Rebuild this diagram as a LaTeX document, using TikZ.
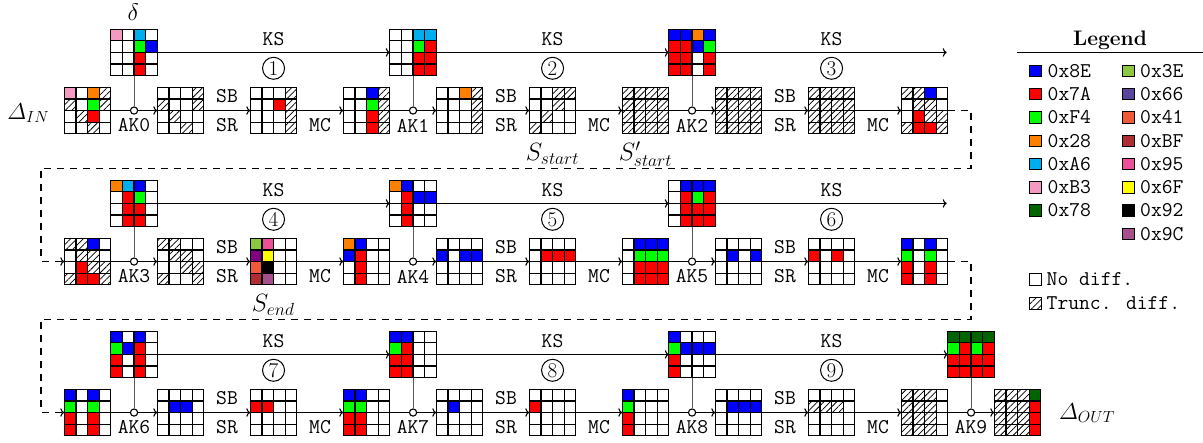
\RequirePackage{fix-cm}
\documentclass[tikz,border=0pt]{standalone}
\usepackage{amsmath}
\usetikzlibrary{patterns.meta,arrows.meta}
\definecolor{colW}{RGB}{255,255,255}
\definecolor{colB}{RGB}{0,0,255}
\definecolor{colR}{RGB}{255,0,0}
\definecolor{colG}{RGB}{0,255,0}
\definecolor{colO}{RGB}{255,128,0}
\definecolor{colC}{RGB}{0,174,239}
\definecolor{colP}{RGB}{244,154,193}
\definecolor{colD}{RGB}{0,100,0}
\definecolor{colL}{RGB}{141,198,63}
\definecolor{colV}{RGB}{128,0,128}
\definecolor{colU}{RGB}{91,68,155}
\definecolor{colF}{RGB}{241,90,55}
\definecolor{colM}{RGB}{175,45,50}
\definecolor{colK}{RGB}{236,80,152}
\definecolor{colY}{RGB}{255,255,0}
\definecolor{colX}{RGB}{0,0,0}
\definecolor{colQ}{RGB}{165,80,140}
\def\cs{11.625}
\def\hcode{H}
\newcommand\cellgrid[4]{%
  \node[gbox,anchor=north west] (#1) at (#2,#3) {};
  \foreach \cv [count=\ii from 0] in {#4} {
    \pgfmathtruncatemacro\cc{mod(\ii,4)}
    \pgfmathtruncatemacro\rr{div(\ii,4)}
    \ifx\cv\hcode
      \fill[hatch] (#2+\cc*\cs,#3+\rr*\cs) rectangle ++(\cs,\cs);
    \else
      \fill[fill=col\cv] (#2+\cc*\cs,#3+\rr*\cs) rectangle ++(\cs,\cs);
    \fi
  }
  \foreach \jj in {0,...,4} {
    \draw[gl] (#2+\jj*\cs,#3) -- ++(0,46.5);
    \draw[gl] (#2,#3+\jj*\cs) -- ++(46.5,0);
  }
}
\newcommand\stategrid[4]{\cellgrid{#1}{64.3+93*#2}{#3}{#4}}
\newcommand\keygrid[4]{\cellgrid{#1}{110.8+93*#2}{#3-58.1}{#4}}
\newcommand\akstep[4]{%
  \pgfmathtruncatemacro\nx{#2+1}
  \node[akc] (ak#3) at (134.05+93*#2,#4+23.25) {};
  \node[lbl] (akl#3) at (134.05+93*#2,#4+38.25) {AK#3};
  \draw[conn] (r#1g#2.east) -- (ak#3.west);
  \draw[conn,->] (ak#3.east) -- (r#1g\nx.west);
  \draw[vl] (k#3.south) -- (ak#3.north);
}
\newcommand\sbstep[3]{%
  \pgfmathtruncatemacro\nx{#2+1}
  \draw[conn,->] (r#1g#2.east) -- (r#1g\nx.west);
  \node[lbl] (sb#1#2) at (134.05+93*#2,#3+9.25) {SB};
  \node[lbl] (sr#1#2) at (134.05+93*#2,#3+38.25) {SR};
}
\newcommand\mcstep[3]{%
  \pgfmathtruncatemacro\nx{#2+1}
  \draw[conn,->] (r#1g#2.east) -- (r#1g\nx.west);
  \node[lbl] (mc#1#2) at (134.05+93*#2,#3+38.25) {MC};
}
\newcommand\roundlab[3]{% number, grid index, T
  \node[rnd] (rn#1) at (87.55+93*#2,#3-19) {#1};
  \node[lbl] (ks#1) at (87.55+93*#2,#3-48.3) {KS};
}
\begin{document}
\begin{tikzpicture}[x=1pt,y=-1pt,
  >={To[length=4pt,width=8.5pt]},
  gbox/.style={minimum size=46.5pt,inner sep=0pt,outer sep=0pt},
  gl/.style={line width=1.3pt,black},
  hatch/.style={pattern={Lines[angle=45,distance=4.5pt,line width=0.75pt]}},
  conn/.style={line width=1.1pt,black},
  vl/.style={line width=1.1pt,black!65},
  akc/.style={circle,draw,line width=1.1pt,minimum size=7.2pt,inner sep=0pt},
  lbl/.style={font=\ttfamily\fontsize{21}{21}\selectfont,inner sep=0pt},
  rnd/.style={circle,draw,line width=1pt,minimum size=22pt,inner sep=0pt,font=\fontsize{21}{21}\selectfont},
  mth/.style={inner sep=0pt,font=\fontsize{23}{23}\selectfont},
  smth/.style={inner sep=0pt,font=\fontsize{25}{25}\selectfont},
  legsq/.style={draw,line width=0.8pt,minimum size=11.5pt,inner sep=0pt},
  dashline/.style={line width=1.1pt,dash pattern=on 7pt off 6pt}]
\useasboundingbox (0,0) rectangle (1203,443);
\def\Ta{87.3}
\def\Tb{238.3}
\def\Tc{389.3}
% ---------------- Row 1
\stategrid{r1g0}{0}{\Ta}{P,W,O,H,H,W,G,H,W,H,R,W,W,W,H,W}
\stategrid{r1g1}{1}{\Ta}{W,W,W,H,H,W,W,H,W,H,W,W,W,W,H,W}
\stategrid{r1g2}{2}{\Ta}{W,W,W,H,W,W,R,H,W,W,W,H,W,W,W,H}
\stategrid{r1g3}{3}{\Ta}{W,W,B,H,W,W,G,H,W,W,R,H,W,W,R,H}
\stategrid{r1g4}{4}{\Ta}{W,W,O,H,W,W,W,H,W,W,W,H,W,W,W,H}
\stategrid{r1g5}{5}{\Ta}{W,W,H,H,W,W,H,W,W,H,W,W,H,W,W,W}
\stategrid{r1g6}{6}{\Ta}{H,H,H,H,H,H,H,H,H,H,H,H,H,H,H,H}
\stategrid{r1g7}{7}{\Ta}{H,H,H,H,H,H,H,H,H,H,H,H,H,H,H,H}
\stategrid{r1g8}{8}{\Ta}{H,H,H,H,H,H,H,H,H,H,H,H,H,H,H,H}
\stategrid{r1g9}{9}{\Ta}{H,H,B,W,W,H,H,W,W,R,H,H,H,R,R,H}
\keygrid{k0}{0}{\Ta}{P,W,C,W,W,W,G,B,W,W,R,W,W,W,R,W}
\keygrid{k1}{3}{\Ta}{W,W,C,C,W,W,G,R,W,W,R,R,W,W,R,R}
\keygrid{k2}{6}{\Ta}{B,B,O,B,R,R,B,G,R,R,W,R,R,R,W,R}
\akstep{1}{0}{0}{\Ta}
\sbstep{1}{1}{\Ta}
\mcstep{1}{2}{\Ta}
\akstep{1}{3}{1}{\Ta}
\sbstep{1}{4}{\Ta}
\mcstep{1}{5}{\Ta}
\akstep{1}{6}{2}{\Ta}
\sbstep{1}{7}{\Ta}
\mcstep{1}{8}{\Ta}
\roundlab{1}{2}{\Ta}
\roundlab{2}{5}{\Ta}
\roundlab{3}{8}{\Ta}
\coordinate (ks1end) at (946.7,\Ta-34.85);
\draw[conn,->] (k0.east) -- (k1.west);
\draw[conn,->] (k1.east) -- (k2.west);
\draw[conn,->] (k2.east) -- (ks1end);
\node[mth] (din) at (28.3,113) {$\varDelta_{IN}$};
\node[mth,font=\fontsize{24}{24}\selectfont] (dlt) at (133.3,12) {$\delta$};
\node[smth] (sst) at (552.5,154.3) {$S_{start}$};
\node[smth] (sst2) at (645.5,154.3) {$S'_{start}$};
% ---------------- Row 2
\stategrid{r2g0}{0}{\Tb}{H,H,B,W,W,H,H,W,W,R,H,H,H,R,R,H}
\stategrid{r2g1}{1}{\Tb}{H,H,W,W,W,H,H,W,W,W,H,H,H,W,W,H}
\stategrid{r2g2}{2}{\Tb}{L,K,W,W,V,Y,W,W,F,X,W,W,M,Q,W,W}
\stategrid{r2g3}{3}{\Tb}{O,B,W,W,B,R,W,W,W,R,W,W,W,R,W,W}
\stategrid{r2g4}{4}{\Tb}{W,W,W,W,B,W,B,B,W,W,W,W,W,W,W,W}
\stategrid{r2g5}{5}{\Tb}{W,W,W,W,W,R,R,R,W,W,W,W,W,W,W,W}
\stategrid{r2g6}{6}{\Tb}{W,B,B,B,W,G,G,G,W,R,R,R,W,R,R,R}
\stategrid{r2g7}{7}{\Tb}{W,W,W,W,W,B,W,B,W,W,W,W,W,W,W,W}
\stategrid{r2g8}{8}{\Tb}{W,W,W,W,R,W,R,W,W,W,W,W,W,W,W,W}
\stategrid{r2g9}{9}{\Tb}{B,W,B,W,G,W,G,W,R,W,R,W,R,W,R,W}
\keygrid{k3}{0}{\Tb}{O,C,B,W,W,R,G,W,W,R,R,W,W,R,R,W}
\keygrid{k4}{3}{\Tb}{O,B,W,W,W,R,B,B,W,R,W,W,W,R,W,W}
\keygrid{k5}{6}{\Tb}{W,B,B,B,W,R,G,R,W,R,R,R,W,R,R,R}
\akstep{2}{0}{3}{\Tb}
\sbstep{2}{1}{\Tb}
\mcstep{2}{2}{\Tb}
\akstep{2}{3}{4}{\Tb}
\sbstep{2}{4}{\Tb}
\mcstep{2}{5}{\Tb}
\akstep{2}{6}{5}{\Tb}
\sbstep{2}{7}{\Tb}
\mcstep{2}{8}{\Tb}
\roundlab{4}{2}{\Tb}
\roundlab{5}{5}{\Tb}
\roundlab{6}{8}{\Tb}
\coordinate (ks2end) at (946.7,\Tb-34.85);
\draw[conn,->] (k3.east) -- (k4.west);
\draw[conn,->] (k4.east) -- (k5.west);
\draw[conn,->] (k5.east) -- (ks2end);
\node[smth] (send) at (273.25,305.3) {$S_{end}$};
% ---------------- Row 3
\stategrid{r3g0}{0}{\Tc}{B,W,B,W,G,W,G,W,R,W,R,W,R,W,R,W}
\stategrid{r3g1}{1}{\Tc}{W,W,W,W,W,B,B,W,W,W,W,W,W,W,W,W}
\stategrid{r3g2}{2}{\Tc}{W,W,W,W,R,R,W,W,W,W,W,W,W,W,W,W}
\stategrid{r3g3}{3}{\Tc}{B,B,W,W,G,G,W,W,R,R,W,W,R,R,W,W}
\stategrid{r3g4}{4}{\Tc}{W,W,W,W,W,B,W,W,W,W,W,W,W,W,W,W}
\stategrid{r3g5}{5}{\Tc}{W,W,W,W,R,W,W,W,W,W,W,W,W,W,W,W}
\stategrid{r3g6}{6}{\Tc}{B,W,W,W,G,W,W,W,R,W,W,W,R,W,W,W}
\stategrid{r3g7}{7}{\Tc}{W,W,W,W,W,B,B,B,W,W,W,W,W,W,W,W}
\stategrid{r3g8}{8}{\Tc}{W,W,W,W,H,H,H,W,W,W,W,W,W,W,W,W}
\stategrid{r3g9}{9}{\Tc}{H,H,H,W,H,H,H,W,H,H,H,W,H,H,H,W}
\stategrid{r3g10}{10}{\Tc}{H,H,H,D,H,H,H,R,H,H,H,R,H,H,H,R}
\keygrid{k6}{0}{\Tc}{B,W,B,W,G,B,R,W,R,W,R,W,R,W,R,W}
\keygrid{k7}{3}{\Tc}{B,B,W,W,G,R,W,W,R,R,W,W,R,R,W,W}
\keygrid{k8}{6}{\Tc}{B,W,W,W,G,B,B,B,R,W,W,W,R,W,W,W}
\keygrid{k9}{9}{\Tc}{D,D,D,D,G,R,G,R,R,R,R,R,R,R,R,R}
\akstep{3}{0}{6}{\Tc}
\sbstep{3}{1}{\Tc}
\mcstep{3}{2}{\Tc}
\akstep{3}{3}{7}{\Tc}
\sbstep{3}{4}{\Tc}
\mcstep{3}{5}{\Tc}
\akstep{3}{6}{8}{\Tc}
\sbstep{3}{7}{\Tc}
\mcstep{3}{8}{\Tc}
\akstep{3}{9}{9}{\Tc}
\roundlab{7}{2}{\Tc}
\roundlab{8}{5}{\Tc}
\roundlab{9}{8}{\Tc}
\draw[conn,->] (k6.east) -- (k7.west);
\draw[conn,->] (k7.east) -- (k8.west);
\draw[conn,->] (k8.east) -- (k9.west);
\node[mth] (dout) at (1087,413) {$\varDelta_{OUT}$};
% ---------------- Dashed returns
\coordinate (d1a) at (971,\Ta+23.25);
\coordinate (d1b) at (971,168.3);
\coordinate (d1c) at (41,168.3);
\coordinate (d1d) at (41,\Tb+23.25);
\draw[dashline,->] (r1g9.east) -- (d1a) -- (d1b) -- (d1c) -- (d1d) -- (r2g0.west);
\coordinate (d2a) at (971,\Tb+23.25);
\coordinate (d2b) at (971,319.5);
\coordinate (d2c) at (41,319.5);
\coordinate (d2d) at (41,\Tc+23.25);
\draw[dashline,->] (r2g9.east) -- (d2a) -- (d2b) -- (d2c) -- (d2d) -- (r3g0.west);
% ---------------- Legend
\node[font=\bfseries\fontsize{21}{21}\selectfont,inner sep=0pt] (legt) at (1110,40) {Legend};
\draw[line width=1.1pt] (1017,52.3) -- (1203,52.3);
\foreach \cl/\tx/\yy [count=\nn] in {B/0x8E/70.7,R/0x7A/94,G/0xF4/117.3,O/0x28/140.7,C/0xA6/164,P/0xB3/187.3,D/0x78/210.5} {
  \node[legsq,fill=col\cl] (lsa\nn) at (1035.2,\yy) {};
  \node[lbl,anchor=west] (lta\nn) at (1047.5,\yy) {\tx};
}
\foreach \cl/\tx/\yy [count=\nn] in {L/0x3E/70.7,U/0x66/94,F/0x41/117.3,M/0xBF/140.7,K/0x95/164,Y/0x6F/187.3,X/0x92/210.5,Q/0x9C/233.8} {
  \node[legsq,fill=col\cl] (lsb\nn) at (1128.3,\yy) {};
  \node[lbl,anchor=west] (ltb\nn) at (1140,\yy) {\tx};
}
\node[legsq] (lnd) at (1035.2,279.3) {};
\node[lbl,anchor=west] (lndt) at (1046.5,279.3) {No diff.};
\node[legsq,hatch] (ltr) at (1035.2,303.3) {};
\draw[line width=0.8pt] (ltr.south west) rectangle (ltr.north east);
\node[lbl,anchor=west] (ltrt) at (1046.5,303.3) {Trunc. diff.};
\end{tikzpicture}
\end{document}
